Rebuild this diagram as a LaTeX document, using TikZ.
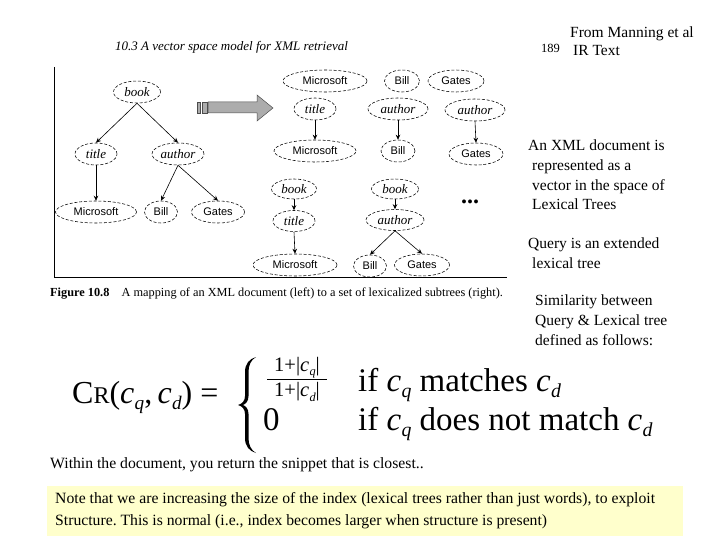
\documentclass[tikz,border=0pt]{standalone}
\usepackage{fontspec}
\setmainfont{Liberation Serif}
\newfontfamily\treesans{Liberation Sans}
\usetikzlibrary{shapes.geometric,arrows.meta}
\frenchspacing
\tikzset{
  tn/.style={ellipse, draw, dash pattern=on 3pt off 1.8pt, line width=0.55pt, inner sep=0pt, minimum height=22pt},
  it/.style={tn, font=\fontsize{13}{14}\selectfont\itshape},
  sf/.style={tn, font=\fontsize{11}{12}\selectfont\treesans},
  arr/.style={-{Stealth[length=5pt,width=4.5pt]}, line width=0.6pt},
  side/.style={anchor=base west, inner sep=0pt, font=\fontsize{15.5}{18}\selectfont},
  big/.style={anchor=base west, inner sep=0pt, font=\fontsize{33}{36}\selectfont},
  low/.style={anchor=base west, inner sep=0pt, font=\fontsize{15.7}{18}\selectfont},
}
\newcommand{\mysub}[1]{\kern0.3pt\raisebox{-0.45ex}{\scalebox{0.6}{\itshape #1}}}
\newcommand{\cq}{\textit{c}\mysub{q}}
\newcommand{\cd}{\textit{c}\mysub{d}}
\begin{document}
\begin{tikzpicture}[x=1pt,y=-1pt]
\useasboundingbox (0,0) rectangle (720,540);
% header
\node[anchor=base west, inner sep=0pt, font=\fontsize{13}{15}\selectfont\itshape] (hdr) at (115,51) {10.3\ A vector space model for XML retrieval};
\node[anchor=base west, inner sep=0pt, font=\fontsize{12.5}{14}\selectfont] (pg) at (541,53) {189};
\node[side] (src1) at (570,38) {From Manning et al};
\node[side] (src2) at (573,56) {IR Text};
% frame
\coordinate (ftop) at (54,67);
\coordinate (fcorner) at (54,277);
\coordinate (fright) at (507,277);
\draw[line width=0.9pt] (ftop) -- (fcorner) -- (fright);
% left tree
\node[it, minimum width=47pt] (book) at (137,92) {book};
\node[it, minimum width=42pt] (title) at (96,154) {title};
\node[it, minimum width=52pt] (author) at (178,154) {author};
\node[sf, minimum width=81pt] (ms) at (96,212) {Microsoft};
\node[sf, minimum width=33pt] (bill) at (161,212) {Bill};
\node[sf, minimum width=53pt] (gates) at (218,212) {Gates};
\draw[arr] (book.south) -- (title.north);
\draw[arr] (book.south) -- (author.north);
\draw[arr] (title.south) -- (ms.north);
\draw[arr] (author.south) -- (bill.north);
\draw[arr] (author.south) -- (gates.north);
% big arrow
\draw[fill=gray!65, draw=black!70, line width=0.5pt] (197,102) rectangle (200,113);
\draw[fill=gray!65, draw=black!70, line width=0.5pt] (202,102) rectangle (207,113);
\draw[fill=gray!65, draw=black!70, line width=0.5pt] (208,102) -- (257,102) -- (257,95) -- (273,108) -- (257,121) -- (257,113) -- (208,113) -- cycle;
% right subtrees row 1-3
\node[sf, minimum width=84pt] (r1ms) at (325,81) {Microsoft};
\node[sf, minimum width=35pt] (r1bill) at (402,81) {Bill};
\node[sf, minimum width=56pt] (r1gates) at (456,81) {Gates};
\node[it, minimum width=42pt] (r2title) at (315,109) {title};
\node[it, minimum width=60pt] (r2auth) at (398,109) {author};
\node[it, minimum width=60pt] (r2auth2) at (475,110) {author};
\node[sf, minimum width=82pt] (r3ms) at (315,151) {Microsoft};
\node[sf, minimum width=34pt] (r3bill) at (398,151) {Bill};
\node[sf, minimum width=54pt] (r3gates) at (476,154) {Gates};
\draw[arr] (r2title.south) -- (r3ms.north);
\draw[arr] (r2auth.south) -- (r3bill.north);
\draw[arr] (r2auth2.south) -- (r3gates.north);
% right subtrees row 4-6
\node[it, minimum width=45pt, minimum height=20pt] (r4book) at (294,189) {book};
\node[it, minimum width=47pt, minimum height=20pt] (r4book2) at (395,189) {book};
\node[it, minimum width=42pt, minimum height=21pt] (r5title) at (294,221) {title};
\node[it, minimum width=58pt, minimum height=21pt] (r5auth) at (395,220) {author};
\node[sf, minimum width=84pt] (r6ms) at (295,265) {Microsoft};
\node[sf, minimum width=33pt] (r6bill) at (370,266) {Bill};
\node[sf, minimum width=55pt] (r6gates) at (422,265) {Gates};
\draw[arr] (r4book.south) -- (r5title.north);
\draw[arr] (r5title.south) -- (r6ms.north);
\draw[arr] (r4book2.south) -- (r5auth.north);
\draw[arr] (r5auth.south) -- (r6bill.north);
\draw[arr] (r5auth.south) -- (r6gates.north);
\node[inner sep=0pt, font=\fontsize{24}{24}\selectfont\bfseries] (dots) at (470,202) {...};
% caption
\node[anchor=base west, inner sep=0pt, font=\fontsize{12.3}{14}\selectfont] (cap) at (50,296) {\textbf{Figure 10.8}\quad A mapping of an XML document (left) to a set of lexicalized subtrees (right).};
% side text
\node[side] (t1) at (528,151) {An XML document is};
\node[side] (t2) at (532,171) {represented as a};
\node[side] (t3) at (532,191) {vector in the space of};
\node[side] (t4) at (532,210) {Lexical Trees};
\node[side] (t5) at (528,248) {Query is an extended};
\node[side] (t6) at (532,268) {lexical tree};
\node[side] (t7) at (535,305) {Similarity between};
\node[side] (t8) at (535,325) {Query \& Lexical tree};
\node[side] (t9) at (535,345) {defined as follows:};
% formula
\node[anchor=base west, inner sep=0pt, font=\fontsize{32}{36}\selectfont] (lhs) at (72,403) {C{\fontsize{24}{26}\selectfont R}(\cq,\,\cd) =};
\fill (256,357) .. controls (249,359) and (245,364) .. (245,372) -- (245,396)
  .. controls (245,401) and (242,404) .. (238,405)
  .. controls (242,406) and (245,409) .. (245,414) -- (245,438)
  .. controls (245,446) and (249,451) .. (256,453)
  .. controls (251,450) and (248.5,445) .. (248.5,438) -- (248.5,414)
  .. controls (248.5,409) and (246,406) .. (243,405)
  .. controls (246,404) and (248.5,401) .. (248.5,396) -- (248.5,372)
  .. controls (248.5,365) and (251,360) .. (256,357) -- cycle;
\node[inner sep=0pt, font=\fontsize{20.5}{22}\selectfont] (num) at (297,368) {1+|\cq|};
\node[inner sep=0pt, font=\fontsize{20.5}{22}\selectfont] (den) at (297,392) {1+|\cd|};
\coordinate (fl) at (267,379);
\coordinate (fr) at (327,379);
\draw[line width=0.8pt] (fl) -- (fr);
\node[big] (zero) at (263,430) {0};
\node[big] (c1) at (358,391) {if \cq\ matches \cd};
\node[big] (c2) at (358,430) {if \cq\ does not match \cd};
% bottom
\node[low] (within) at (50,468) {Within the document, you return the snippet that is closest..};
\node[fill={rgb,255:red,255;green,255;blue,204}, anchor=north west, minimum width=636pt, minimum height=50pt, inner sep=0pt] (note) at (47,486) {};
\node[low] (n1) at (55,503) {Note that we are increasing the size of the index (lexical trees rather than just words), to exploit};
\node[low] (n2) at (55,525) {Structure. This is normal (i.e., index becomes larger when structure is present)};
\end{tikzpicture}
\end{document}
